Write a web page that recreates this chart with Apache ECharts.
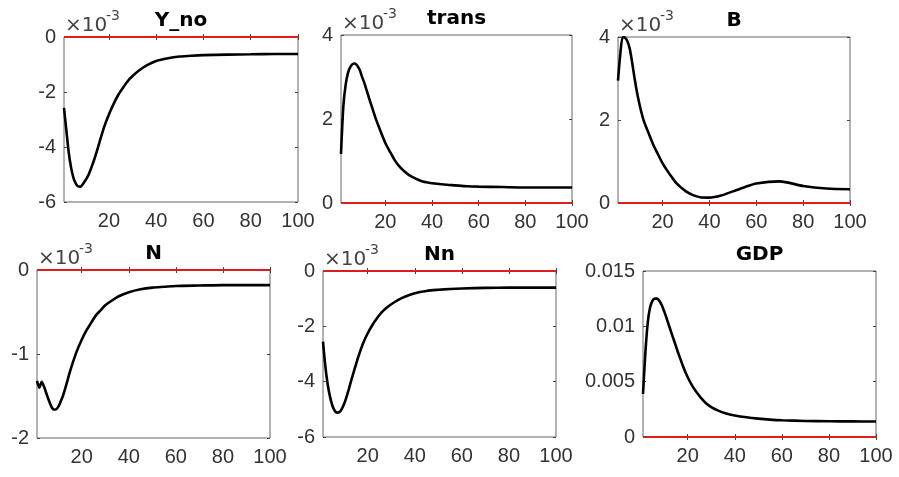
<!DOCTYPE html>
<html>
<head>
<meta charset="utf-8">
<style>
  html, body { margin: 0; padding: 0; background: #fff; }
  #irf { width: 899px; height: 477px; }
</style>
<script src="https://cdn.jsdelivr.net/npm/echarts@6/dist/echarts.min.js"></script>
</head>
<body>
<div id="irf"></div>
<script>
// impulse responses (x10^-3 except GDP)
const periods = [1, 2, 3, 4, 5, 6, 7, 8, 9, 10, 11, 12, 13, 14, 15, 16, 18, 20, 22, 24, 26, 28, 30, 33, 36, 40, 45, 50, 55, 60, 70, 80, 90, 100];
const yNo = [-2.58, -3.4, -4.2, -4.75, -5.12, -5.33, -5.43, -5.44, -5.35, -5.22, -5.08, -4.88, -4.65, -4.4, -4.12, -3.83,
    -3.27, -2.82, -2.43, -2.1, -1.84, -1.6, -1.42, -1.2, -1.03, -0.87, -0.77, -0.71, -0.68, -0.66, -0.64, -0.63, -0.62, -0.62];
const trans = [1.17, 2.3, 2.82, 3.1, 3.24, 3.31, 3.32, 3.27, 3.17, 3.01, 2.86, 2.68, 2.5, 2.33, 2.16, 1.99,
    1.7, 1.43, 1.22, 1.02, 0.87, 0.76, 0.67, 0.58, 0.51, 0.47, 0.44, 0.42, 0.4, 0.39, 0.38, 0.37, 0.37, 0.37];
const bond = [2.95, 3.6, 4.0, 3.98, 3.9, 3.72, 3.4, 3.03, 2.7, 2.42, 2.18, 1.98, 1.83, 1.69, 1.55, 1.41,
    1.18, 0.96, 0.78, 0.62, 0.47, 0.37, 0.28, 0.19, 0.14, 0.13, 0.18, 0.28, 0.38, 0.47, 0.52, 0.41, 0.35, 0.33];
const hours = [-1.32, -1.4, -1.33, -1.39, -1.47, -1.55, -1.62, -1.66, -1.66, -1.63, -1.57, -1.5, -1.41, -1.31, -1.21, -1.12,
    -0.96, -0.83, -0.72, -0.63, -0.54, -0.48, -0.42, -0.36, -0.31, -0.265, -0.23, -0.21, -0.2, -0.19, -0.185, -0.18, -0.18, -0.18];
const hoursNn = [-2.55, -3.45, -4.1, -4.55, -4.87, -5.05, -5.12, -5.1, -4.98, -4.8, -4.55, -4.26, -3.95, -3.66, -3.38, -3.1,
    -2.62, -2.25, -1.95, -1.7, -1.49, -1.33, -1.2, -1.04, -0.92, -0.8, -0.72, -0.68, -0.65, -0.63, -0.61, -0.6, -0.6, -0.6];
const gdp = [0.0039, 0.0076, 0.0103, 0.0117, 0.0123, 0.0125, 0.0125, 0.0123, 0.0119, 0.01135, 0.01075, 0.0101, 0.00946, 0.00883, 0.0082, 0.00757,
    0.0064, 0.0054, 0.0046, 0.00398, 0.00345, 0.003, 0.0027, 0.00238, 0.00215, 0.00195, 0.00178, 0.00166, 0.00157, 0.00151, 0.00145, 0.00142, 0.00141, 0.0014];
const zeroX = [1, 100];
const zeroY = [0, 0];
const xTicks = [20, 40, 60, 80, 100];

const FONT = '"Liberation Sans", Arial, Helvetica, sans-serif';
const WIDE = '"DejaVu Sans", Verdana, sans-serif';

const panels = [
    { name: 'Y_no', values: yNo, left: 64, top: 37, width: 234, height: 165, min: -6, max: 0, step: 2, exp: true },
    { name: 'trans', values: trans, left: 341, top: 35, width: 231, height: 168, min: 0, max: 4, step: 2, exp: true },
    { name: 'B', values: bond, left: 618, top: 37, width: 232, height: 166, min: 0, max: 4, step: 2, exp: true },
    { name: 'N', values: hours, left: 37, top: 270, width: 233, height: 168, min: -2, max: 0, step: 1, exp: true },
    { name: 'Nn', values: hoursNn, left: 323, top: 271, width: 233, height: 166, min: -6, max: 0, step: 2, exp: true },
    { name: 'GDP', values: gdp, left: 643, top: 271, width: 233, height: 166, min: 0, max: 0.015, step: 0.005, exp: false },
];

const chart = echarts.init(document.getElementById('irf'));

const grid = [];
const xAxis = [];
const yAxis = [];
const series = [];
const graphic = [];

panels.forEach((p, i) => {
    grid.push({
        left: p.left, top: p.top, width: p.width, height: p.height,
        show: true, borderColor: '#666', borderWidth: 1, backgroundColor: '#fff',
    });
    const tick = { inside: true, length: 3, lineStyle: { color: '#444' } };
    xAxis.push({
        type: 'value', gridIndex: i, min: 1, max: 100, position: 'bottom',
        axisLine: { show: false }, splitLine: { show: false },
        axisTick: Object.assign({ customValues: xTicks }, tick),
        axisLabel: { customValues: xTicks, fontSize: 20, fontFamily: FONT, color: '#333', margin: 9 },
    });
    xAxis.push({
        type: 'value', gridIndex: i, min: 1, max: 100, position: 'top',
        axisLine: { show: false }, splitLine: { show: false },
        axisTick: Object.assign({ customValues: xTicks }, tick),
        axisLabel: { show: false },
    });
    yAxis.push({
        type: 'value', gridIndex: i, min: p.min, max: p.max, interval: p.step, position: 'left',
        axisLine: { show: false }, splitLine: { show: false }, axisTick: tick,
        axisLabel: {
            fontSize: 20, fontFamily: FONT, color: '#333', margin: 8,
            formatter: v => String(parseFloat(v.toPrecision(6))),
        },
    });
    yAxis.push({
        type: 'value', gridIndex: i, min: p.min, max: p.max, interval: p.step, position: 'right',
        axisLine: { show: false }, splitLine: { show: false }, axisTick: tick,
        axisLabel: { show: false },
    });

    series.push({
        type: 'line', xAxisIndex: 2 * i, yAxisIndex: 2 * i,
        data: periods.map((t, k) => [t, p.values[k]]),
        smooth: 0.25, showSymbol: false, silent: true,
        lineStyle: { color: '#000', width: 2.6 },
    });
    series.push({
        type: 'line', xAxisIndex: 2 * i, yAxisIndex: 2 * i,
        data: zeroX.map((t, k) => [t, zeroY[k]]),
        showSymbol: false, silent: true,
        lineStyle: { color: '#e01b1b', width: 2 },
    });

    graphic.push({
        type: 'text', x: p.left + p.width / 2, y: p.top - 16,
        style: { text: p.name, font: 'bold 20px ' + WIDE, fill: '#000', align: 'center', verticalAlign: 'middle' },
    });
    if (p.exp) {
        graphic.push({
            type: 'text', x: p.left + 1, y: p.top - 11,
            style: { text: '×10', font: '20px ' + WIDE, fill: '#444', align: 'left', verticalAlign: 'middle' },
        });
        graphic.push({
            type: 'text', x: p.left + 42, y: p.top - 21,
            style: { text: '-3', font: '14px ' + WIDE, fill: '#444', align: 'left', verticalAlign: 'middle' },
        });
    }
});

chart.setOption({
    animation: false,
    backgroundColor: '#fff',
    grid,
    xAxis,
    yAxis,
    series,
    graphic,
});
</script>
</body>
</html>
